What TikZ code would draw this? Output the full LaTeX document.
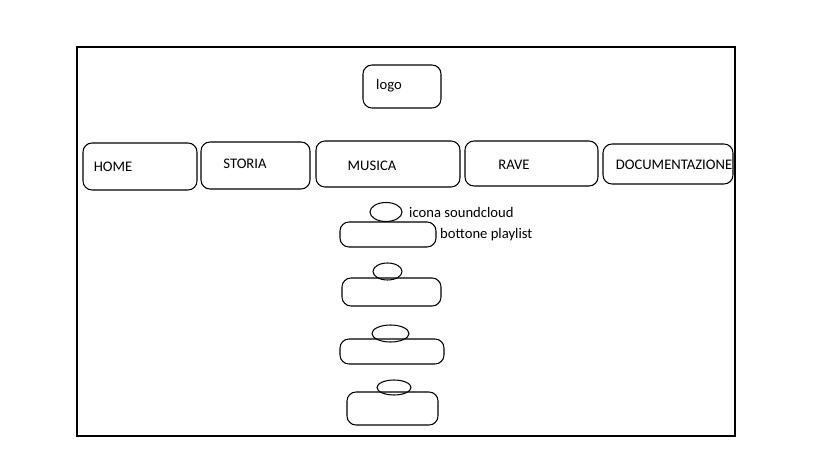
\documentclass[tikz,border=0pt]{standalone}
\usepackage{fontspec}
\setmainfont{Carlito}
\usetikzlibrary{shapes.geometric}
\newcommand{\px}{0.03cm}
\tikzset{
  wire/.style={line width=0.9pt},
  roundbox/.style={wire,draw,rounded corners=0.27cm,inner sep=0pt},
  iconoval/.style={wire,draw,ellipse,inner sep=0pt},
  txt/.style={inner sep=0pt,font=\fontsize{12.5}{15}\selectfont,text=black}
}
\begin{document}
\begin{tikzpicture}[x=0.03cm,y=-0.03cm]
\useasboundingbox (0,0) rectangle (819,460);
% page frame
\node[wire,draw,inner sep=0pt,minimum width=658*\px,minimum height=389*\px] (page) at (406,241.5) {};
% logo
\node[roundbox,minimum width=78*\px,minimum height=43*\px] (logo) at (402,86.5) {};
\node[txt] (logo-t) at (389,85.5) {logo};
% menu
\node[roundbox,minimum width=114*\px,minimum height=47*\px] (home) at (140,166.5) {};
\node[txt] (home-t) at (113,166.5) {HOME};
\node[roundbox,minimum width=109*\px,minimum height=47*\px] (storia) at (255.5,165.5) {};
\node[txt] (storia-t) at (245,163.5) {STORIA};
\node[roundbox,minimum width=144*\px,minimum height=46*\px] (musica) at (388,164) {};
\node[txt] (musica-t) at (372,165.5) {MUSICA};
\node[roundbox,minimum width=133*\px,minimum height=45*\px] (rave) at (531.5,163.5) {};
\node[txt] (rave-t) at (514,164.5) {RAVE};
\node[roundbox,minimum width=130*\px,minimum height=40*\px] (docu) at (668,164) {};
\node[txt] (docu-t) at (674,164.5) {DOCUMENTAZIONE};
% playlist buttons with icons
\node[roundbox,minimum width=96*\px,minimum height=25*\px] (btn1) at (388,234.5) {};
\node[iconoval,minimum width=32*\px,minimum height=19*\px] (ico1) at (386,212) {};
\node[roundbox,minimum width=99*\px,minimum height=28*\px] (btn2) at (391.5,292) {};
\node[iconoval,minimum width=29*\px,minimum height=17*\px] (ico2) at (387.5,271.5) {};
\node[roundbox,minimum width=104*\px,minimum height=25*\px] (btn3) at (392,351.5) {};
\node[iconoval,minimum width=37*\px,minimum height=17*\px] (ico3) at (390.5,333.5) {};
\node[roundbox,minimum width=91*\px,minimum height=33*\px] (btn4) at (392.5,408.5) {};
\node[iconoval,minimum width=34*\px,minimum height=15*\px] (ico4) at (394,387.5) {};
% notes
\node[txt,anchor=west] (ico-t) at (409,212) {icona soundcloud};
\node[txt,anchor=west] (btn-t) at (440,235) {bottone playlist};
\end{tikzpicture}
\end{document}
